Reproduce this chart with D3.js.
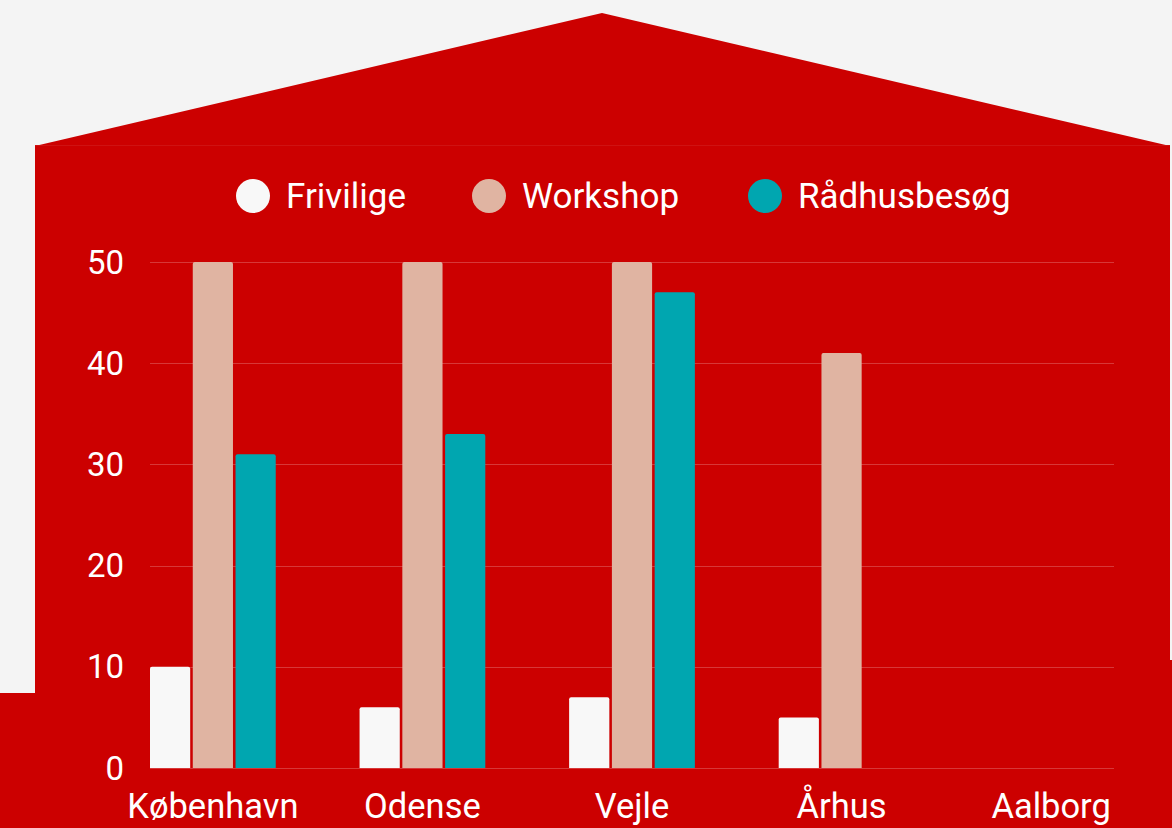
<!DOCTYPE html>
<html lang="da">
<head>
  <meta charset="UTF-8">
  <script src="https://d3js.org/d3.v7.min.js"></script>
  <title>Aktiviteter</title>
  <style>
    body { margin: 0; background: #f4f4f4; }
    svg { display: block; font-family: Roboto, "Noto Sans", sans-serif; }
  </style>
</head>
<body>
  <svg id="chart" width="1172" height="828"></svg>

  <script>
    // data
    var cities = ["København", "Odense", "Vejle", "Århus", "Aalborg"];
    var seriesNames = ["Frivilige", "Workshop", "Rådhusbesøg"];
    var frivilige = [10, 6, 7, 5, 0];
    var workshop = [50, 50, 50, 41, 0];
    var raadhus = [31, 33, 47, 0, 0];
    var yTicks = [0, 10, 20, 30, 40, 50];
    var colors = ["#f8f8f8", "#e0b4a2", "#00a6b0"];

    var allSeries = [frivilige, workshop, raadhus];

    var svg = d3.select("#chart"),
      width = +svg.attr("width"),
      height = +svg.attr("height");

    // house background
    var red = "#cc0000";
    svg.append("polygon")
      .attr("points", "35,146 602,13 1170,146")
      .attr("fill", red);
    svg.append("rect")
      .attr("x", 35).attr("y", 145)
      .attr("width", 1135).attr("height", height - 145)
      .attr("fill", red);
    svg.append("rect")
      .attr("x", 0).attr("y", 693)
      .attr("width", 40).attr("height", height - 693)
      .attr("fill", red);
    svg.append("rect")
      .attr("x", 1165).attr("y", 660)
      .attr("width", 7).attr("height", height - 660)
      .attr("fill", red);
    svg.append("line")
      .attr("x1", 35).attr("x2", 1170)
      .attr("y1", 145.5).attr("y2", 145.5)
      .attr("stroke", "rgba(255,255,255,0.07)");

    // scales
    var x0 = d3.scaleBand()
      .domain(cities)
      .range([150, 1114])
      .paddingInner(0.4)
      .paddingOuter(0);

    var x1 = d3.scaleBand()
      .domain(seriesNames)
      .range([0, x0.bandwidth()])
      .paddingInner(0.06);

    var y = d3.scaleLinear()
      .domain([0, 50])
      .range([768, 262]);

    // grid
    svg.append("g")
      .selectAll("line")
      .data(yTicks)
      .enter()
      .append("line")
        .attr("x1", 150)
        .attr("x2", 1114)
        .attr("y1", function(d) { return Math.round(y(d)) + 0.5; })
        .attr("y2", function(d) { return Math.round(y(d)) + 0.5; })
        .attr("stroke", "rgba(255,255,255,0.22)")
        .attr("stroke-width", 1);

    // y axis labels
    svg.append("g")
      .selectAll("text")
      .data(yTicks)
      .enter()
      .append("text")
        .attr("x", 124)
        .attr("y", function(d) { return y(d); })
        .attr("dy", "0.35em")
        .attr("text-anchor", "end")
        .attr("fill", "#fff")
        .attr("font-size", 33)
        .text(function(d) { return d; });

    // x axis labels
    svg.append("g")
      .selectAll("text")
      .data(cities)
      .enter()
      .append("text")
        .attr("x", function(d) { return x0(d) + x0.bandwidth() / 2; })
        .attr("y", 818)
        .attr("text-anchor", "middle")
        .attr("fill", "#fff")
        .attr("font-size", 34.5)
        .text(function(d) { return d; });

    // bars
    var groups = svg.append("g")
      .selectAll("g")
      .data(cities)
      .enter()
      .append("g")
        .attr("transform", function(d) { return "translate(" + x0(d) + ",0)"; });

    groups.selectAll("path")
      .data(function(d, i) {
        return seriesNames.map(function(s, j) {
          return { key: s, value: allSeries[j][i], color: colors[j] };
        });
      })
      .enter()
      .filter(function(d) { return d.value > 0; })
      .append("path")
        .attr("d", function(d) {
          var bx = x1(d.key), bw = x1.bandwidth();
          var top = y(d.value), bottom = y(0), r = 2;
          return "M" + bx + "," + bottom +
            "V" + (top + r) +
            "Q" + bx + "," + top + " " + (bx + r) + "," + top +
            "H" + (bx + bw - r) +
            "Q" + (bx + bw) + "," + top + " " + (bx + bw) + "," + (top + r) +
            "V" + bottom + "Z";
        })
        .attr("fill", function(d) { return d.color; });

    // legend
    var legendX = [253, 489, 765];
    var legend = svg.append("g")
      .selectAll("g")
      .data(seriesNames)
      .enter()
      .append("g")
        .attr("transform", function(d, i) { return "translate(" + legendX[i] + ",196)"; });

    legend.append("circle")
      .attr("r", 17)
      .attr("fill", function(d, i) { return colors[i]; });

    legend.append("text")
      .attr("x", 33)
      .attr("dy", "0.35em")
      .attr("fill", "#fff")
      .attr("font-size", 35)
      .text(function(d) { return d; });
  </script>
</body>
</html>
